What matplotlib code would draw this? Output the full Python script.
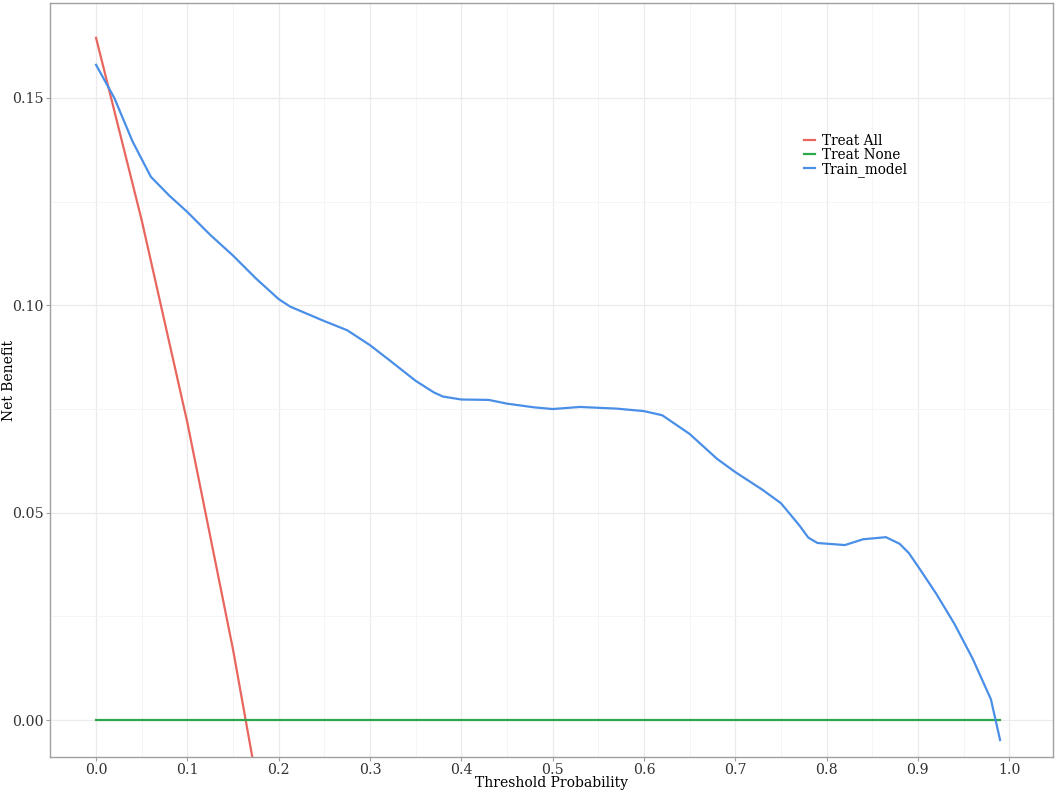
import matplotlib
matplotlib.use("Agg")
import matplotlib.pyplot as plt
import numpy as np

# threshold grid and net benefit values
thr_all = [0.0, 0.05, 0.10, 0.15, 0.20]
nb_all = [0.1645, 0.1205, 0.0717, 0.0170, -0.0444]

thr_none = [0.0, 0.99]
nb_none = [0.0, 0.0]

thr_model = [0.0, 0.02, 0.04, 0.06, 0.08, 0.10, 0.125, 0.15, 0.175, 0.20, 0.2125,
             0.25, 0.275, 0.30, 0.32, 0.35, 0.37, 0.38, 0.40, 0.43, 0.45, 0.48,
             0.50, 0.53, 0.57, 0.60, 0.62, 0.65, 0.68, 0.70, 0.73, 0.75, 0.77,
             0.78, 0.79, 0.82, 0.84, 0.865, 0.88, 0.89, 0.90, 0.92, 0.94, 0.96,
             0.98, 0.99]
nb_model = [0.158, 0.150, 0.1395, 0.131, 0.1265, 0.1225, 0.1170, 0.1120, 0.1065,
            0.1015, 0.0997, 0.0962, 0.0940, 0.0904, 0.0870, 0.0818, 0.0790, 0.0780,
            0.0773, 0.0772, 0.0763, 0.0754, 0.0750, 0.0755, 0.0751, 0.0745, 0.0735,
            0.0690, 0.0630, 0.0598, 0.0555, 0.0523, 0.0470, 0.0440, 0.0427, 0.0422,
            0.0436, 0.0441, 0.0425, 0.0403, 0.0371, 0.0305, 0.0232, 0.0148, 0.0050,
            -0.0048]

plt.rcParams['font.family'] = ['DejaVu Serif']

fig = plt.figure(figsize=(10.58, 7.92), dpi=100)
ax = fig.add_axes([0.0473, 0.0442, 0.948, 0.952])

ax.plot(thr_all, nb_all, color='#E8665E', lw=1.6, label='Treat All')
ax.plot(thr_none, nb_none, color='#2BA84A', lw=1.6, label='Treat None')
ax.plot(thr_model, nb_model, color='#4A8FE7', lw=1.6, label='Train_model')

ax.set_xlim(-0.0504, 1.048)
ax.set_ylim(-0.0089, 0.1729)
ax.set_xticks(np.arange(0, 1.01, 0.1))
ax.set_xticks(np.arange(0.05, 1.0, 0.1), minor=True)
ax.set_yticks([0.0, 0.05, 0.10, 0.15])
ax.set_yticks([0.025, 0.075, 0.125], minor=True)
ax.set_yticklabels(['0.00', '0.05', '0.10', '0.15'])
ax.set_xticklabels(['%.1f' % v for v in np.arange(0, 1.01, 0.1)])

ax.grid(which='major', color='#EBEBEB', lw=0.9)
ax.grid(which='minor', color='#F4F4F4', lw=0.6)
ax.set_axisbelow(True)
for s in ax.spines.values():
    s.set_color('#A0A0A0')
    s.set_linewidth(1.0)
ax.tick_params(which='major', length=3, width=0.8, pad=1.5, color='#A0A0A0',
               labelsize=10.2, labelcolor='#333333')
ax.tick_params(which='minor', length=0)

ax.set_xlabel('Threshold Probability', fontsize=10, labelpad=-1)
ax.set_ylabel('Net Benefit', fontsize=10)
ax.yaxis.set_label_coords(-0.034, 0.5)

ax.legend(loc='upper left', bbox_to_anchor=(0.745, 0.835), frameon=False,
          fontsize=9.8, handlelength=0.8, handletextpad=0.5, labelspacing=0.0,
          borderpad=0)

fig.savefig('out.png', dpi=100)
